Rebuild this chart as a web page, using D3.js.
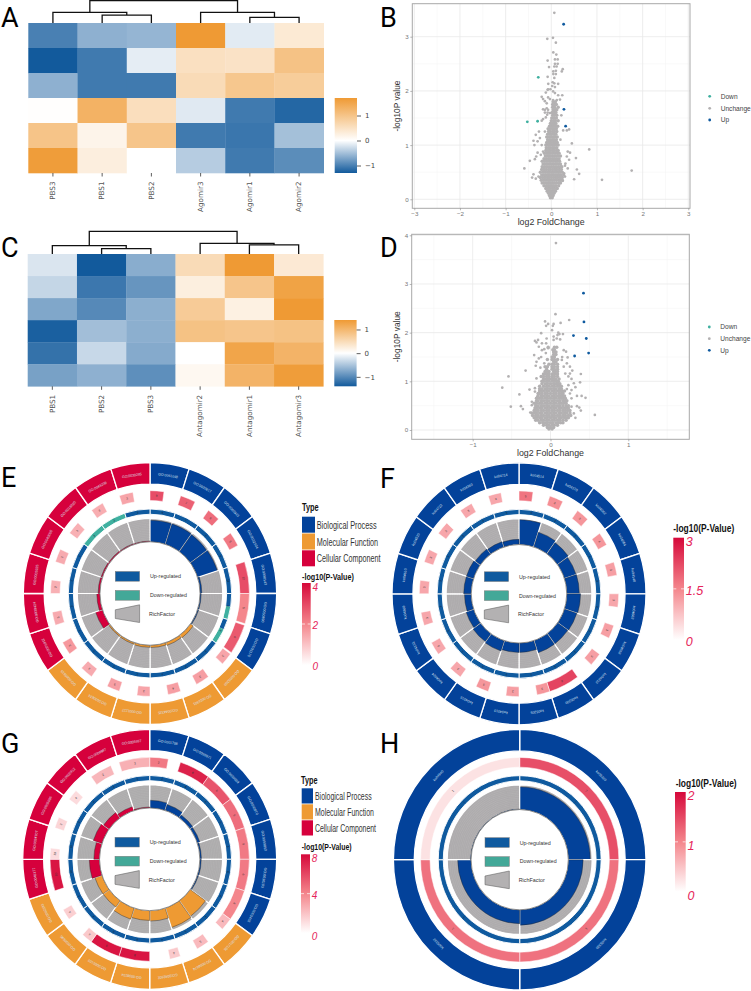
<!DOCTYPE html>
<html><head><meta charset="utf-8">
<script src="https://cdn.jsdelivr.net/npm/d3@7/dist/d3.min.js"></script>
<style>html,body{margin:0;padding:0;background:#fff}svg{display:block}</style>
</head><body><svg id="c" width="751" height="991"></svg>
<script>
// ---------- heatmaps ----------
const colsA=["PBS3","PBS1","PBS2","Agomir3","Agomir1","Agomir2"];
const heatA=[[-1.0,-.62,-.58,1.7,-.16,.36],[-1.3,-1.05,-.14,.52,.48,1.02],[-.62,-1.05,-1.05,.6,.95,.85],[.02,1.3,.55,-.17,-1.05,-1.2],[1.0,.18,.98,-1.05,-1.08,-.5],[1.65,.28,0,-.4,-1.05,-.9]];
const colsC=["PBS1","PBS2","PBS3","Antagomir2","Antagomir1","Antagomir3"];
const heatC=[[-.22,-1.4,-.7,.5,1.4,.3],[-.35,-1.15,-.9,.22,.8,1.28],[-.75,-1.0,-.68,.72,.2,1.4],[-1.35,-.55,-.68,.85,.8,.85],[-1.2,-.33,-.72,0,1.25,1.05],[-.8,-.67,-.95,.1,1.05,1.36]];
// dendrogram links: [leftColumnPos,leftHeight,rightColumnPos,rightHeight,linkHeight]
const dendA=[[1.5,0,2.5,0,.353],[.5,0,2,.353,.47],[4.5,0,5.5,0,.25],[3.5,0,5,.25,.47],[1.25,.47,4.25,.47,1]];
const dendC=[[1.5,0,2.5,0,.235],[.5,0,2,.235,.37],[4.5,0,5.5,0,.4],[3.5,0,5,.4,.47],[1.25,.37,4.25,.47,1]];
// ---------- volcano B ----------
const bMassRows=[[.03,[-.02,.02]],[.07,[-.04,0,.04]],[.11,[-.06,-.02,.02,.06]],[.15,[-.09,-.05,-.02,.02,.05,.09]],[.2,[-.12,-.07,-.03,.02,.06,.11,.13]],[.25,[-.16,-.11,-.07,-.03,.01,.05,.1,.16]],
[.3,[-.2,-.15,-.1,-.06,-.02,.02,.07,.12,.17,.2]],[.35,[-.22,-.17,-.12,-.07,-.03,.02,.06,.11,.16,.2,.24]],[.4,[-.24,-.19,-.14,-.09,-.05,0,.05,.1,.14,.19,.24]],[.45,[-.21,-.16,-.11,-.06,-.02,.03,.07,.12,.16,.21,.27]],[.5,[-.24,-.18,-.13,-.08,-.04,.01,.05,.1,.15,.19,.24]],[.55,[-.21,-.16,-.11,-.06,-.02,.03,.08,.12,.17,.22]],
[.6,[-.2,-.15,-.1,-.05,0,.05,.1,.15,.2,.23]],[.65,[-.18,-.13,-.08,-.03,.02,.06,.11,.16,.2]],[.7,[-.2,-.15,-.1,-.05,-.01,.04,.09,.13,.18]],[.75,[-.16,-.11,-.06,-.02,.03,.07,.12,.17]],[.8,[-.13,-.08,-.04,.01,.06,.1,.15,.2]],[.85,[-.15,-.1,-.06,-.02,.03,.08,.13,.17]],
[.9,[-.12,-.07,-.03,.02,.06,.11,.15]],[.95,[-.11,-.06,-.02,.03,.07,.12]],[1,[-.12,-.08,-.04,.01,.05,.1,.15]],[1.05,[-.1,-.05,-.01,.04,.08,.13]],[1.1,[-.08,-.03,.02,.06,.11]],[1.15,[-.1,-.05,-.01,.04,.08,.13]],[1.2,[-.08,-.03,.01,.06,.1]],[1.25,[-.06,-.02,.03,.07,.12]],[1.3,[-.07,-.02,.03,.07,.11]],[1.35,[-.04,0,.04,.09,.14]],[1.4,[-.02,.02,.06,.1]],[1.45,[0,.05,.09,.15]],[1.5,[.01,.06,.11]],[1.55,[.03,.07,.12]],[1.6,[.02,.06,.1]],[1.65,[.04,.09,.12]],[1.7,[.03,.07,.15]],[1.75,[.03,.07,.11]],[1.8,[.04,.09]]];
const bScatterX=[.066,.036,-.088,.1,.044,.11,.08,.14,-.08,.08,.14,.066,.117,-.05,.25,.23,.044,.1,.044,.1,-.08,.066,.03,-.066,.066,.15,.02,.08,-.02,-.08,.83,1.76,1.11,.5,.61,.56,.54,.45,.39,.34,.26,.36,.41,.34,.31,.39,.36,.3,-.59,-.47,-.39,-.42,-.34,-.28,-.36,-.3,-.33,-.23,-.39,-.37,-.3,-.34,-.27,-.25,-.21,-.18,-.14,-.21,-.18,-.12,-.09,-.14,-.1,-.18,-.07,-.14,-.08,-.03,-.21,-.18,-.14,-.1,-.07,-.03,-.12,-.07,.24,.19,.12,.04,.15,.08,.04,.22,.28,.3,.25,.2];
const bScatterY=[3.44,2.98,2.96,2.89,2.71,2.67,2.58,2.58,2.56,2.5,2.5,2.45,2.45,2.44,2.4,2.36,2.36,2.37,2.31,2.31,2.26,2.24,2.16,2.13,2.14,2.13,2.09,2.07,2.03,2.02,.92,.53,.36,.37,.47,.55,.76,1.03,1.29,1.27,1.27,.88,.86,.79,.66,.73,.57,.42,.57,.71,.46,.4,.38,.42,.74,.86,.79,.82,1.08,1,1.07,1.19,1.25,1.13,1,.88,1.25,1.45,1.48,1.51,1.56,1.65,1.68,1.66,1.65,1.6,1.6,1.59,1.89,1.85,1.81,1.77,1.88,1.85,1.97,2.03,1.92,1.84,1.83,1.83,1.92,1.96,1.99,1.55,.48,.62,.34,1.1];
const bDownX=[-.285,-.525,-.3], bDownY=[2.25,1.43,1.44];
const bUpX=[.27,.277,.314], bUpY=[3.23,1.66,1.35];
// ---------- volcano D ----------
const dMassRows=[[.02,[-.02,.02]],[.05,[-.04,0,.04]],[.1,[-.09,-.05,-.02,.02,.05,.09]],[.15,[-.14,-.1,-.07,-.04,0,.03,.07,.1,.13,.16]],[.2,[-.19,-.16,-.12,-.09,-.05,-.02,.02,.05,.09,.12,.16,.2]],
[.25,[-.21,-.18,-.14,-.11,-.07,-.04,0,.04,.07,.11,.14,.18,.21,.23]],[.3,[-.23,-.19,-.16,-.12,-.09,-.05,-.02,.02,.05,.09,.12,.16,.19,.23,.26]],[.35,[-.24,-.21,-.18,-.14,-.11,-.07,-.04,0,.04,.07,.11,.14,.18,.21,.25]],[.4,[-.21,-.19,-.16,-.12,-.09,-.05,-.02,.02,.05,.09,.12,.16,.19,.22,.25]],[.45,[-.2,-.18,-.14,-.11,-.07,-.04,0,.04,.07,.11,.14,.18,.21,.23]],
[.5,[-.19,-.16,-.12,-.09,-.05,-.02,.02,.05,.09,.12,.16,.2,.23]],[.55,[-.21,-.18,-.14,-.11,-.07,-.04,0,.04,.07,.11,.14,.17,.2]],[.6,[-.18,-.16,-.12,-.09,-.05,-.02,.02,.05,.09,.12,.16,.19,.21]],[.65,[-.18,-.14,-.11,-.07,-.04,0,.04,.07,.11,.14,.17,.19]],[.7,[-.16,-.12,-.09,-.05,-.02,.02,.05,.09,.12,.15,.18]],
[.75,[-.16,-.14,-.11,-.07,-.04,0,.04,.07,.11,.14,.16]],[.8,[-.14,-.12,-.09,-.05,-.02,.02,.05,.09,.12,.15,.18]],[.85,[-.14,-.11,-.07,-.04,0,.04,.07,.11,.14]],[.9,[-.14,-.09,-.05,-.02,.02,.05,.09,.12,.14]],[.95,[-.11,-.07,-.04,0,.04,.07,.1,.12]],[1,[-.11,-.09,-.05,-.02,.02,.05,.08,.1]],
[1.05,[-.09,-.07,-.04,-.01,.02,.04,.07,.11]],[1.1,[-.12,-.09,-.05,-.02,.02,.05,.09]],[1.15,[-.09,-.07,-.04,-.02,.02,.04,.07,.09]],[1.2,[-.07,-.05,-.02,.04,.06,.09]],[1.25,[-.05,.02,.05,.09]],[1.3,[-.07,-.04,.02,.05,.09]],[1.35,[-.02,.02,.05,.09]],[1.4,[.04,.07]],[1.45,[-.04,.02,.05,.09]],[1.5,[.02,.05]],[1.55,[.04,.07]],[1.6,[.04,.07]],[1.65,[.03,.05]],[1.7,[-.03,.05,.08]]];
const dScatterX=[.07,.064,.24,-.07,-.03,.04,.13,.03,-.056,-.12,.02,.1,.16,.115,.09,.04,.124,-.05,-.16,-.2,-.18,-.11,-.056,-.15,.04,.08,-.21,-.15,-.12,-.18,-.19,-.13,-.08,-.06,-.03,-.11,-.08,.17,.2,.15,.22,.146,.21,.17,.25,.28,.25,.19,.23,.39,.38,.27,.32,.3,.23,.21,.27,.34,.4,.45,.27,.25,.34,.27,.37,.39,.57,.32,.3,-.54,-.62,-.32,-.4,-.27,-.51,-.38,-.355,-.26,-.24,-.24,-.2,-.18,-.2,-.17];
const dScatterY=[3.84,2.38,2.26,2.23,2.18,2.18,2.2,2.14,2.14,1.99,2.05,2,1.97,1.97,1.95,1.92,1.86,1.88,1.85,1.83,1.8,1.78,1.78,1.71,1.85,1.88,1.54,1.47,1.5,1.4,1.32,1.28,1.37,1.58,1.68,1.64,1.66,1.64,1.61,1.5,1.49,1.44,1.37,1.3,1.3,1.22,1.16,1.16,1.1,1.15,.98,1.05,.88,.96,.92,.84,.82,.7,.7,.66,.65,.75,.49,.48,.46,.4,.31,.25,.34,1.1,.87,1.22,.73,.83,.48,.49,.43,.36,.58,.51,.86,1.06,.79,.68];
const dUpX=[.424,.43,.295,.46,.49,.31], dUpY=[2.81,2.22,1.94,1.88,1.58,1.52];
// ---------- circular plots ----------
const eIds=["GO:0061048","GO:0032617","GO:0060923","GO:0032504","GO:0008143","GO:0050890","GO:0031175","GO:0005200","GO:0016301","GO:0044325","GO:0001227","GO:0030674","GO:0005515","GO:0005912","GO:0030424","GO:0005925","GO:0043005","GO:0016020","GO:0043209","GO:0030285"];
const eGroups=[7,6,7];
const ePValue=[2.9,2.6,2.4,2.2,2.9,2,2.7,1.5,1.6,1.6,1.5,1.6,1.4,1.7,1.4,1.3,1.4,1.3,1.35,1.5];
const eSpan=[.45,.5,.42,.45,1,.95,.95,.4,.45,.42,.42,.42,.42,.42,.42,.42,.42,.42,.42,.45];
const eDown=[0,0,0,0,0,.5,.6,0,0,0,0,0,0,0,0,0,0,1,1,0];
const eRich=[.92,.92,.9,.92,.08,.05,.05,.15,.13,.1,.09,.07,.06,.32,.14,.08,.06,.05,.04,.03];
const eCounts=[9,7,6,5,12,5,6,3,3,4,3,3,3,3,3,2,2,3,3,3];
const fIds=["ko04514","ko04270","ko04062","ko04064","ko04148","ko04662","ko04668","ko04310","ko05200","ko05205","ko04010","ko04015","ko04024","ko04151","ko04360","ko04610","ko04510","ko04722","ko04360","ko04714"];
const fGroups=[20];
const fPValue=[1.7,1.4,1.3,1.3,1.2,1.1,1.2,1.2,2.3,1.3,1.2,1.3,1.1,1.1,1.1,1.1,1.1,1.1,1.1,1.1];
const fSpan=[.45,.45,.42,.42,.42,.42,.42,.42,1,.42,.42,.42,.42,.42,.42,.42,.42,.42,.42,.42];
const fDown=[0,0,0,0,0,0,0,0,0,0,0,0,0,0,0,0,0,0,0,0];
const fRich=[.96,.6,.54,.49,.5,.55,.52,.5,.5,.36,.36,.42,.38,.32,.27,.3,.3,.25,.22,.2];
const fCounts=[5,3,3,4,3,3,3,3,6,3,3,3,3,3,3,3,3,3,3,3];
const gIds=["GO:0001798","GO:0050871","GO:0030889","GO:0050870","GO:0050853","GO:0030183","GO:0002455","GO:0017136","GO:0004674","GO:0042802","GO:0008234","GO:0005102","GO:0030695","GO:0042393","GO:0045177","GO:0034707","GO:0005886","GO:0005912","GO:0009897","GO:0005887"];
const gGroups=[7,7,6];
const gPValue=[4.4,7.2,5.6,4.8,4.4,4.4,4,2.3,2.3,1.8,7.6,7.6,1.8,1.6,7.6,1.2,1.4,1.2,2.4,2.6];
const gSpan=[.6,1,1,1,1,1,1,.4,.42,.35,1,1,.35,.35,1,.35,.35,.35,.72,1];
const gDown=[0,0,0,0,0,0,0,0,0,0,0,0,0,0,0,0,0,0,0,0];
const gRich=[.33,.27,.15,.12,.07,.06,.05,.83,.88,.45,.42,.5,.33,.33,.45,.25,.4,.3,.18,.04];
const gCounts=[2,8,6,5,5,6,6,4,5,4,8,6,4,4,10,10,2,4,2,3];
const hIds=["ko05320","ko05330","ko05332","ko04940"];
const hGroups=[4];
const hPValue=[1.44,1.16,1.16,.24];
const hSpan=[1,1,1,1];
const hDown=[0,0,0,0];
const hRich=[.92,.62,.56,.02];
const hCounts=[2,1,1,1];
const typeNames=["Biological Process","Molecular Function","Cellular Component"];
const typeColors=["#03429a","#ee9a33","#d6003c"];
const rowsIndex=[0,1,2,3,4,5];

const svg=d3.select("#c");
const defs=svg.append("defs");
const GRAY="#b3b1b2",UP="#0f5a9f",DOWN="#3fb0a0",LIGHT="Liberation Sans, Arial, sans-serif",NARROW="Liberation Sans Narrow, Liberation Sans, Arial, sans-serif",DV="DejaVu Sans, sans-serif";

function fit(sel,x,y,w){ // squeeze a text horizontally to the width it has in the picture
  const n=sel.node().getComputedTextLength();
  sel.attr("transform",`translate(${x},${y}) scale(${w/n},1)`);
}
function letters(t,x,y){svg.append("text").attr("x",x).attr("y",y).attr("font-family","Roboto, sans-serif").attr("font-size",27).attr("fill","#000").text(t);}
[["A",1,26.5],["B",380,26.5],["C",1,257],["D",380,257],["E",1,487],["F",380,488],["G",1,753],["H",380,753]].forEach(d=>letters(...d));

function heat(cols,data,dend,o){
  const x=d3.scaleBand().domain(cols).range([o.x0,o.x1]);
  const y=d3.scaleBand().domain(rowsIndex).range([o.y0,o.y1]);
  const col=d3.scaleLinear().domain([o.min,0,o.max]).range(["#125a9c","#ffffff","#ef9a34"]);
  const g=svg.append("g");
  data.forEach((row,i)=>row.forEach((v,j)=>g.append("rect").attr("x",x(cols[j])).attr("y",y(i)).attr("width",x.bandwidth()+.3).attr("height",y.bandwidth()+.3).attr("fill",col(v))));
  const ax=g.append("g").attr("transform",`translate(0,${o.y1})`).call(d3.axisBottom(x).tickSize(3.5));
  ax.select(".domain").remove();
  ax.selectAll("line").attr("stroke","#333").attr("stroke-width",.8);
  ax.selectAll("text").attr("font-family",DV).attr("font-size",7.2).attr("fill","#555").attr("transform","rotate(-90)").attr("text-anchor","end").attr("x",-8.5).attr("y",0).attr("dy",".32em");
  // dendrogram
  const cx=d3.scaleLinear().domain([0,6]).range([o.x0,o.x1]);
  const cy=d3.scaleLinear().domain([0,1]).range([o.y0,o.dTop]);
  const line=d3.line();
  dend.forEach(d=>g.append("path").attr("d",line([[cx(d[0]),cy(d[1])],[cx(d[0]),cy(d[4])],[cx(d[2]),cy(d[4])],[cx(d[2]),cy(d[3])]])).attr("fill","none").attr("stroke","#111").attr("stroke-width",1.3));
  // colorbar
  const id="hc"+Math.round(o.x0*10);
  const gr=defs.append("linearGradient").attr("id",id).attr("x1",0).attr("x2",0).attr("y1",1).attr("y2",0);
  [o.min,o.min/2,0,o.max/2,o.max].forEach(v=>gr.append("stop").attr("offset",(v-o.min)/(o.max-o.min)).attr("stop-color",col(v)));
  g.append("rect").attr("x",o.cbx).attr("y",o.cby0).attr("width",22.3).attr("height",o.y1-o.cby0).attr("fill",`url(#${id})`);
  const cs=d3.scaleLinear().domain([o.min,o.max]).range([o.y1,o.cby0]);
  const ca=g.append("g").attr("transform",`translate(${o.cbx+22.3},0)`).call(d3.axisRight(cs).tickValues([-1,0,1]).tickSize(4).tickPadding(4).tickFormat(d=>d<0?"\u22121":d));
  ca.select(".domain").remove();
  ca.selectAll("line").attr("stroke","#333").attr("stroke-width",.8);
  ca.selectAll("text").attr("font-family",DV).attr("font-size",7).attr("fill","#444");
}
heat(colsA,heatA,dendA,{x0:28.3,x1:323.7,y0:23,y1:173,dTop:.6,min:-1.3,max:1.7,cbx:334.7,cby0:98});
heat(colsC,heatC,dendC,{x0:27.7,x1:323.3,y0:254,y1:386.3,dTop:231.3,min:-1.4,max:1.4,cbx:334.3,cby0:320});

function volcano(o){
  const x=d3.scaleLinear().domain(o.xd).range(o.xr);
  const y=d3.scaleLinear().domain(o.yd).range(o.yr);
  const g=svg.append("g");
  const [L,R,T,B]=o.box;
  o.xMinor.forEach(v=>g.append("line").attr("x1",x(v)).attr("x2",x(v)).attr("y1",T).attr("y2",B).attr("stroke","#f2f2f2").attr("stroke-width",.5));
  o.yMinor.forEach(v=>g.append("line").attr("y1",y(v)).attr("y2",y(v)).attr("x1",L).attr("x2",R).attr("stroke","#f2f2f2").attr("stroke-width",.5));
  o.xTicks.forEach(v=>g.append("line").attr("x1",x(v)).attr("x2",x(v)).attr("y1",T).attr("y2",B).attr("stroke","#e9e9e9").attr("stroke-width",.8));
  o.yTicks.forEach(v=>g.append("line").attr("y1",y(v)).attr("y2",y(v)).attr("x1",L).attr("x2",R).attr("stroke","#e9e9e9").attr("stroke-width",.8));
  const pts=g.append("g");
  o.rows.forEach(r=>r[1].forEach(vx=>pts.append("circle").attr("cx",x(vx)).attr("cy",y(r[0])).attr("r",1.75).attr("fill",GRAY)));
  o.sx.forEach((vx,i)=>pts.append("circle").attr("cx",x(vx)).attr("cy",y(o.sy[i])).attr("r",1.35).attr("fill",GRAY));
  o.dx.forEach((vx,i)=>pts.append("circle").attr("cx",x(vx)).attr("cy",y(o.dy[i])).attr("r",1.4).attr("fill",DOWN));
  o.ux.forEach((vx,i)=>pts.append("circle").attr("cx",x(vx)).attr("cy",y(o.uy[i])).attr("r",1.4).attr("fill",UP));
  g.append("rect").attr("x",L).attr("y",T).attr("width",R-L).attr("height",B-T).attr("fill","none").attr("stroke","#a8a8a8").attr("stroke-width",1);
  const ax=g.append("g").attr("transform",`translate(0,${B})`).call(d3.axisBottom(x).tickValues(o.xTicks).tickSize(2).tickPadding(1).tickFormat(d3.format("d")));
  const ay=g.append("g").attr("transform",`translate(${L},0)`).call(d3.axisLeft(y).tickValues(o.yTicks).tickSize(2).tickPadding(1.5).tickFormat(d3.format("d")));
  [ax,ay].forEach(a=>{a.select(".domain").remove();a.selectAll("line").attr("stroke","#888").attr("stroke-width",.6);a.selectAll("text").attr("font-family",LIGHT).attr("font-size",6.2).attr("fill","#777");});
  g.append("text").attr("x",(L+R)/2).attr("y",o.xtY).attr("text-anchor","middle").attr("font-family",LIGHT).attr("font-size",8.8).attr("fill","#333").text("log2 FoldChange");
  g.append("text").attr("transform",`translate(${o.ytX},${(T+B)/2}) rotate(-90)`).attr("text-anchor","middle").attr("font-family",LIGHT).attr("font-size",8.4).attr("fill","#333").text("-log10P value");
  ["Down","Unchange","Up"].forEach((t,i)=>{
    g.append("circle").attr("cx",o.lx).attr("cy",o.ly[i]).attr("r",1.4).attr("fill",[DOWN,GRAY,UP][i]);
    g.append("text").attr("x",o.lx+11).attr("y",o.ly[i]+2.4).attr("font-family",LIGHT).attr("font-size",6.6).attr("fill","#444").text(t);
  });
}
volcano({xd:[-3,3],xr:[414.3,688.3],yd:[0,3],yr:[199.3,36.7],box:[412.3,690,3.7,208.3],xTicks:[-3,-2,-1,0,1,2,3],yTicks:[0,1,2,3],xMinor:[-2.5,-1.5,-.5,.5,1.5,2.5],yMinor:[.5,1.5,2.5],rows:bMassRows,sx:bScatterX,sy:bScatterY,dx:bDownX,dy:bDownY,ux:bUpX,uy:bUpY,xtY:225,ytX:400,lx:709.7,ly:[96.3,108.3,120]});
volcano({xd:[-1,1],xr:[472.7,628.3],yd:[0,4],yr:[430,235.3],box:[411.7,689.3,234.3,439.3],xTicks:[-1,0,1],yTicks:[0,1,2,3,4],xMinor:[-1.5,-.5,.5,1.5],yMinor:[.5,1.5,2.5,3.5],rows:dMassRows,sx:dScatterX,sy:dScatterY,dx:[],dy:[],ux:dUpX,uy:dUpY,xtY:456,ytX:400,lx:709.3,ly:[327,338.7,350.3]});

const pColor=d3.scaleLinear().domain([0,.5,1]).range(["#ffffff","#f4868c","#d6083a"]);
defs.append("linearGradient").attr("id","pg").attr("x1",0).attr("x2",0).attr("y1",1).attr("y2",0).selectAll("stop").data([0,.25,.5,.75,1]).join("stop").attr("offset",d=>d).attr("stop-color",d=>pColor(d));

function circos(o){
  const R=o.rx,n=o.ids.length,seg=2*Math.PI/n;
  const g=svg.append("g").attr("transform",`translate(${o.cx},${o.cy}) scale(1,${o.ry/o.rx})`);
  const arc=d3.arc();
  const sector=(r0,r1,a0,a1)=>arc({innerRadius:r0*R,outerRadius:r1*R,startAngle:a0,endAngle:a1});
  const types=o.groups.flatMap((c,i)=>Array(c).fill(i));
  const rich=d3.scaleLinear().domain([0,1]).range([o.inner,.574]);
  const polar=(r,a)=>`rotate(${a*180/Math.PI}) translate(0,${-r*R})`;
  o.ids.forEach((id,i)=>{
    const a0=i*seg,a1=a0+seg,mid=a0+seg/2;
    g.append("path").attr("d",sector(.835,1,a0,a1)).attr("fill",typeColors[types[i]]).attr("stroke","#fff").attr("stroke-width",1.3);
    g.append("text").attr("transform",polar(.912,mid)).attr("text-anchor","middle").attr("dy",".35em").attr("font-family",LIGHT).attr("font-size",3.5).attr("fill","#d8e0ee").text(id);
    const ae=a0+seg*o.span[i];
    g.append("path").attr("d",sector(.71,.785,a0,ae)).attr("fill",pColor(o.p[i]/o.pMax)).attr("stroke","#fff").attr("stroke-width",.5);
    g.append("text").attr("transform",polar(.7475,(a0+ae)/2)).attr("text-anchor","middle").attr("dy",".35em").attr("font-family",LIGHT).attr("font-size",3).attr("fill","#333").text(o.counts[i]);
    const split=a0+seg*(1-o.down[i]);
    if(o.down[i]<1)g.append("path").attr("d",sector(.605,.645,a0,split)).attr("fill",UP);
    if(o.down[i]>0)g.append("path").attr("d",sector(.605,.645,split,a1)).attr("fill",DOWN);
    g.append("path").attr("d",sector(.605,.645,a0,a1)).attr("fill","none").attr("stroke","#fff").attr("stroke-width",.9);
    g.append("text").attr("transform",polar(.625,mid)).attr("text-anchor","middle").attr("dy",".35em").attr("font-family",LIGHT).attr("font-size",2.8).attr("fill","#123").text(o.counts[i]);
    g.append("path").attr("d",sector(o.inner,.574,a0,a1)).attr("fill",GRAY).attr("stroke","#fff").attr("stroke-width",1.2);
    d3.range(1,14).forEach(k=>{ const r=o.inner+(.574-o.inner)*k/14;
      g.append("path").attr("d",d3.arc()({innerRadius:r*R,outerRadius:r*R,startAngle:a0+.012,endAngle:a1-.012})).attr("fill","none").attr("stroke","#aaa8a9").attr("stroke-width",.35);});
    g.append("path").attr("d",sector(o.inner,rich(o.rich[i]),a0,a1)).attr("fill",typeColors[types[i]]).attr("stroke","#222").attr("stroke-width",.4);
  });
  g.append("circle").attr("r",o.inner*R).attr("fill","#fff").attr("stroke","#777").attr("stroke-width",.8);
  // inner legend
  const ig=svg.append("g").attr("transform",`translate(${o.cx},${o.cy})`);
  const irect=(y,c)=>ig.append("rect").attr("x",-34.7).attr("y",y).attr("width",24.3).attr("height",9.7).attr("fill",c).attr("stroke","#777").attr("stroke-width",.5);
  irect(-22,UP);irect(-3,"#43a898");
  ig.append("path").attr("d",d3.line()([[-34.7,16.3],[-10.4,11.3],[-10.4,29],[-34.7,25]])+"Z").attr("fill",GRAY).attr("stroke","#666").attr("stroke-width",.6);
  [["Up-regulated",0,-17.2,31],["Down-regulated",0,1.7,37],["RichFactor",-1,20.6,26]].forEach(d=>{
    const t=ig.append("text").attr("font-family",LIGHT).attr("font-size",5.6).attr("fill","#333").text(d[0]);
    fit(t,d[1],d[2]+2,d[3]);
  });
  // legend
  const l=o.leg,lg=svg.append("g");
  if(l.typeX!==undefined){
    fit(lg.append("text").attr("font-family",NARROW).attr("font-weight","bold").attr("font-size",10.5).attr("fill","#111").text("Type"),l.typeX,l.typeY,l.typeW);
    typeNames.forEach((t,i)=>{
      lg.append("rect").attr("x",l.swX).attr("y",l.swY+i*l.swH).attr("width",l.swW).attr("height",l.swH-.8).attr("fill",typeColors[i]);
      fit(lg.append("text").attr("font-family",NARROW).attr("font-size",11).attr("fill","#333").text(t),l.labX,l.swY+i*l.swH+l.swH/2+3.6,l.labW[i]);
    });
  }
  fit(lg.append("text").attr("font-family",NARROW).attr("font-weight","bold").attr("font-size",l.pSize).attr("fill","#111").text("-log10(P-Value)"),l.px,l.py,l.pW);
  lg.append("rect").attr("x",l.bx).attr("y",l.by0).attr("width",l.bw).attr("height",l.by1-l.by0).attr("fill","url(#pg)");
  lg.append("line").attr("x1",l.bx).attr("x2",l.bx+3).attr("y1",(l.by0+l.by1)/2).attr("y2",(l.by0+l.by1)/2).attr("stroke","#fff").attr("stroke-width",.7);
  lg.append("line").attr("x1",l.bx+l.bw-3).attr("x2",l.bx+l.bw).attr("y1",(l.by0+l.by1)/2).attr("y2",(l.by0+l.by1)/2).attr("stroke","#fff").attr("stroke-width",.7);
  l.ticks.forEach(t=>lg.append("text").attr("x",l.bx+l.bw+1.8).attr("y",t[1]).attr("dy",".36em").attr("font-family",NARROW).attr("font-style","italic").attr("font-size",l.tSize).attr("fill","#e6245a").text(t[0]));
}
circos({cx:150,cy:593.5,rx:126.7,ry:131,inner:.395,ids:eIds,groups:eGroups,p:ePValue,pMax:4,span:eSpan,down:eDown,rich:eRich,counts:eCounts,
  leg:{typeX:302,typeY:511,typeW:16.7,swX:302,swY:516.7,swW:13,swH:16.8,labX:316.7,labW:[60,61.5,64],px:302,py:580,pW:52,pSize:9.5,bx:302,by0:583,by1:665,bw:8.7,tSize:10,ticks:[["4",587],["2",625.7],["0",666.7]]}});
circos({cx:519,cy:593.8,rx:127,ry:131,inner:.376,ids:fIds,groups:fGroups,p:fPValue,pMax:3,span:fSpan,down:fDown,rich:fRich,counts:fCounts,
  leg:{px:673.3,py:531.5,pW:61,pSize:11.5,bx:673.3,by0:537.7,by1:640,bw:10.7,tSize:12.5,ticks:[["3",541.5],["1.5",590.7],["0",641.7]]}});
circos({cx:149.7,cy:859.3,rx:127,ry:130,inner:.395,ids:gIds,groups:gGroups,p:gPValue,pMax:8,span:gSpan,down:gDown,rich:gRich,counts:gCounts,
  leg:{typeX:301,typeY:783.5,typeW:16.5,swX:301.7,swY:788.3,swW:11.3,swH:16,labX:315,labW:[56.7,59,61],px:301.7,py:850,pW:50,pSize:9.5,bx:301,by0:854.3,by1:933,bw:9,tSize:10,ticks:[["8",858],["4",895.7],["0",936]]}});
circos({cx:519.7,cy:859.7,rx:126.3,ry:130.3,inner:.385,ids:hIds,groups:hGroups,p:hPValue,pMax:2,span:hSpan,down:hDown,rich:hRich,counts:hCounts,
  leg:{px:675.7,py:786.5,pW:61,pSize:11.5,bx:675,by0:792,by1:891.7,bw:10.7,tSize:12.5,ticks:[["2",795.5],["1",845],["0",895]]}});
</script></body></html>
